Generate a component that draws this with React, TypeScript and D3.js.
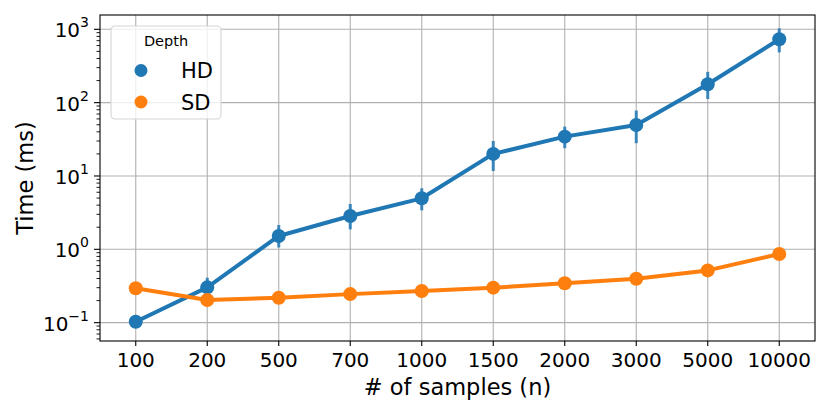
import { useEffect } from "react"
import * as d3 from "d3"

const categories = ["100", "200", "500", "700", "1000", "1500", "2000", "3000", "5000", "10000"]

// HD: mean time and error bar bounds (ms)
const hdMean = [0.103, 0.303, 1.52, 2.85, 4.96, 20, 34.4, 49.6, 178, 731]
const hdLow = [0.097, 0.24, 1.06, 1.87, 3.4, 11.7, 23.9, 28, 112, 485]
const hdHigh = [0.11, 0.41, 2.14, 4.15, 6.8, 30, 47, 78, 263, 1031]

// SD: mean time (ms), error bars too small to see
const sdMean = [0.294, 0.204, 0.219, 0.245, 0.27, 0.3, 0.344, 0.397, 0.516, 0.863]

const yTicks = [0.1, 1, 10, 100, 1000]
const yTickLabels = [["10", "−1"], ["10", "0"], ["10", "1"], ["10", "2"], ["10", "3"]]

const series = [
  { name: "HD", color: "#1f77b4", mean: hdMean, low: hdLow, high: hdHigh },
  { name: "SD", color: "#ff7f0e", mean: sdMean, low: null as number[] | null, high: null as number[] | null },
]

const W = 830
const H = 415
const margin = { top: 15, right: 15, bottom: 74, left: 100 }
const FONT = "DejaVu Sans, sans-serif"

export default function App() {
  useEffect(() => {
    document.body.style.margin = "0"
  }, [])

  const innerW = W - margin.left - margin.right
  const innerH = H - margin.top - margin.bottom

  const x = d3
    .scalePoint<string>()
    .domain(categories)
    .range([0, innerW])
    .padding(0.5)

  const y = d3
    .scaleLog()
    .domain([Math.pow(10, -1.25), Math.pow(10, 3.195)])
    .range([innerH, 0])

  // minor ticks on the log axis
  const minorTicks: number[] = []
  for (let e = -2; e <= 3; e++) {
    for (let m = 2; m <= 9; m++) {
      const v = m * Math.pow(10, e)
      if (v >= y.domain()[0] && v <= y.domain()[1]) minorTicks.push(v)
    }
  }

  const line = d3
    .line<number>()
    .x((_, i) => x(categories[i]) as number)
    .y((d) => y(d))

  return (
    <svg width={W} height={H} style={{ display: "block" }} fontFamily={FONT}>
      <rect width={W} height={H} fill="white" />
      <g transform={`translate(${margin.left},${margin.top})`}>
        {/* grid */}
        {categories.map((c) => (
          <line key={c} x1={x(c)} x2={x(c)} y1={0} y2={innerH} stroke="#b0b0b0" strokeWidth={1.1} />
        ))}
        {yTicks.map((t) => (
          <line key={t} x1={0} x2={innerW} y1={y(t)} y2={y(t)} stroke="#b0b0b0" strokeWidth={1.1} />
        ))}

        {/* series */}
        {series.map((s) => (
          <g key={s.name}>
            <path d={line(s.mean) as string} fill="none" stroke={s.color} strokeWidth={4} strokeLinejoin="round" />
            {s.low &&
              s.high &&
              s.mean.map((_, i) => (
                <line
                  key={i}
                  x1={x(categories[i])}
                  x2={x(categories[i])}
                  y1={y(s.low![i])}
                  y2={y(s.high![i])}
                  stroke={s.color}
                  strokeWidth={3}
                  opacity={0.85}
                />
              ))}
            {s.mean.map((v, i) => (
              <circle key={i} cx={x(categories[i])} cy={y(v)} r={7} fill={s.color} />
            ))}
          </g>
        ))}

        {/* spines */}
        <rect x={0} y={0} width={innerW} height={innerH} fill="none" stroke="black" strokeWidth={1.1} />

        {/* x axis */}
        {categories.map((c) => (
          <g key={c} transform={`translate(${x(c)},${innerH})`}>
            <line y1={0} y2={5} stroke="black" strokeWidth={1.1} />
            <text y={26} textAnchor="middle" fontSize={20} fill="black">
              {c}
            </text>
          </g>
        ))}
        <text x={innerW / 2} y={innerH + 54} textAnchor="middle" fontSize={22.5} fill="black">
          # of samples (n)
        </text>

        {/* y axis */}
        {minorTicks.map((t) => (
          <line key={t} x1={-3.5} x2={0} y1={y(t)} y2={y(t)} stroke="black" strokeWidth={0.9} />
        ))}
        {yTicks.map((t, i) => (
          <g key={t} transform={`translate(0,${y(t)})`}>
            <line x1={-6} x2={0} stroke="black" strokeWidth={1.1} />
            <text x={-11} y={8} textAnchor="end" fontSize={20} fill="black">
              {yTickLabels[i][0]}
              <tspan fontSize={14} dy={-10}>
                {yTickLabels[i][1]}
              </tspan>
            </text>
          </g>
        ))}
        <text
          transform={`translate(${33 - margin.left},${innerH / 2}) rotate(-90)`}
          textAnchor="middle"
          fontSize={22.5}
          fill="black"
        >
          Time (ms)
        </text>

        {/* legend */}
        <g transform={`translate(${111 - margin.left},${26 - margin.top})`}>
          <rect width={110} height={93} rx={4} fill="white" fillOpacity={0.8} stroke="#d6d6d6" strokeWidth={1.1} />
          <text x={55} y={20} textAnchor="middle" fontSize={14.5} fill="black">
            Depth
          </text>
          {series.map((s, i) => (
            <g key={s.name} transform={`translate(0,${44.5 + i * 31.5})`}>
              <circle cx={30} cy={0} r={6.5} fill={s.color} />
              <text x={70} y={7.5} fontSize={21} fill="black">
                {s.name}
              </text>
            </g>
          ))}
        </g>
      </g>
    </svg>
  )
}
